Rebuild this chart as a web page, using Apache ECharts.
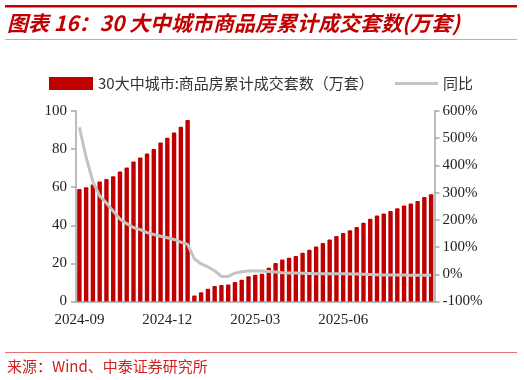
<!DOCTYPE html>
<html>
<head>
<meta charset="utf-8">
<script src="https://cdn.jsdelivr.net/npm/echarts@6/dist/echarts.min.js"></script>
<style>
html,body{margin:0;padding:0;background:#fff;}
#main{width:524px;height:380px;}
</style>
</head>
<body>
<div id="main"></div>
<script>
// Weekly dates (week ending)
var categories = [
  '2024-09-08','2024-09-15','2024-09-22','2024-09-29','2024-10-06','2024-10-13','2024-10-20','2024-10-27',
  '2024-11-03','2024-11-10','2024-11-17','2024-11-24','2024-12-01','2024-12-08','2024-12-15','2024-12-22',
  '2024-12-29','2025-01-05','2025-01-12','2025-01-19','2025-01-26','2025-02-02','2025-02-09','2025-02-16',
  '2025-02-23','2025-03-02','2025-03-09','2025-03-16','2025-03-23','2025-03-30','2025-04-06','2025-04-13',
  '2025-04-20','2025-04-27','2025-05-04','2025-05-11','2025-05-18','2025-05-25','2025-06-01','2025-06-08',
  '2025-06-15','2025-06-22','2025-06-29','2025-07-06','2025-07-13','2025-07-20','2025-07-27','2025-08-03',
  '2025-08-10','2025-08-17','2025-08-24','2025-08-31','2025-09-07'
];
// 30大中城市:商品房累计成交套数（万套）
var cumulativeUnits = [
  59.0, 60.0, 61.4, 63.0, 64.3, 65.7, 68.3, 70.4, 73.5, 75.6, 77.7, 80.0, 83.5, 86.0, 88.7, 91.7, 95.3,
  3.2, 4.9, 6.7, 8.1, 8.6, 8.9, 10.2, 11.4, 13.2, 14.0, 14.6, 17.7, 20.2, 22.1, 23.0, 23.9, 25.6, 27.2,
  28.9, 30.7, 32.6, 34.4, 36.0, 37.4, 39.1, 41.4, 43.5, 45.1, 46.2, 47.5, 48.9, 50.4, 51.4, 52.8, 54.9, 56.3
];
// 同比 (%)
var yoyPct = [
  540, 430, 340, 288, 262, 232, 203, 186, 172, 164, 153, 146, 140, 134, 128, 118, 110,
  57, 38, 27, 13, -8, -8, 4, 9, 12, 13, 12, 10, 8, 6, 5, 5, 4, 3, 2, 2, 2, 2, 2,
  1, 1, 0, -1, -2, -3, -3, -3, -3, -4, -4, -4, -4
];
var leftTicks = { min: 0, max: 100, interval: 20 };
var rightTicks = { min: -100, max: 600, interval: 100 };
var labelEvery = 13;

var barName = '30大中城市:商品房累计成交套数（万套）';
var lineName = '同比';
var RED = '#C00000';
var GREY = '#C4C4C4';
var serif = '"Liberation Serif","Times New Roman",serif';
var cjk = '"Noto Sans CJK SC","Noto Sans",sans-serif';

var chart = echarts.init(document.getElementById('main'), null, { renderer: 'canvas' });
var lastIdx = categories.length - 1;
function showAt(i) { return i % labelEvery === 0 && i < lastIdx; }

chart.setOption({
  animation: false,
  backgroundColor: '#fff',
  graphic: [
    { type: 'rect', shape: { x: 5, y: 5, width: 512, height: 2.5 }, style: { fill: RED } },
    { type: 'text', left: 7, top: 13, style: { text: '图表 16：30 大中城市商品房累计成交套数(万套)', fill: RED,
      font: 'italic bold 21px ' + cjk } },
    { type: 'rect', shape: { x: 5, y: 39, width: 512, height: 1 }, style: { fill: '#EE9A9A' } },
    { type: 'rect', shape: { x: 5, y: 352, width: 512, height: 1 }, style: { fill: '#E87070' } },
    { type: 'text', left: 7, top: 359, style: { text: '来源：Wind、中泰证券研究所', fill: '#D02020',
      font: '15px ' + cjk } }
  ],
  legend: [
    { data: [barName], left: 44, top: 71, itemWidth: 44, itemHeight: 13, icon: 'rect',
      textStyle: { fontSize: 15, color: '#333', fontFamily: cjk } },
    { data: [{ name: lineName, icon: 'rect' }], left: 390, top: 71, itemWidth: 43, itemHeight: 3,
      textStyle: { fontSize: 15, color: '#333', fontFamily: cjk } }
  ],
  grid: { left: 76, right: 89.5, top: 111, bottom: 78.5, outerBoundsMode: 'none', containLabel: false },
  xAxis: {
    type: 'category',
    data: categories,
    boundaryGap: true,
    axisLine: { lineStyle: { color: '#A6A6A6', width: 1.5 } },
    axisTick: { interval: function (i) { return showAt(i); }, length: 5, lineStyle: { color: '#A6A6A6', width: 1.5 } },
    axisLabel: {
      interval: function (i) { return showAt(i); },
      formatter: function (v) { return v.slice(0, 7); },
      fontFamily: serif, fontSize: 15, color: '#222', margin: 11
    },
    splitLine: { show: false }
  },
  yAxis: [
    {
      type: 'value', min: leftTicks.min, max: leftTicks.max, interval: leftTicks.interval,
      axisLine: { show: true, lineStyle: { color: '#A6A6A6', width: 1.5 } },
      axisTick: { show: true, length: 5, lineStyle: { color: '#A6A6A6', width: 1.5 } },
      axisLabel: { fontFamily: serif, fontSize: 15, color: '#222', margin: 9 },
      splitLine: { show: false }
    },
    {
      type: 'value', min: rightTicks.min, max: rightTicks.max, interval: rightTicks.interval,
      position: 'right',
      axisLine: { show: true, lineStyle: { color: '#A6A6A6', width: 1.5 } },
      axisTick: { show: true, length: 5, lineStyle: { color: '#A6A6A6', width: 1.5 } },
      axisLabel: { fontFamily: serif, fontSize: 15, color: '#222', margin: 8, formatter: '{value}%' },
      splitLine: { show: false }
    }
  ],
  series: [
    {
      name: barName, type: 'bar', data: cumulativeUnits, yAxisIndex: 0,
      barCategoryGap: '35%',
      itemStyle: { color: RED, borderRadius: [1, 1, 0, 0] }
    },
    {
      name: lineName, type: 'line', data: yoyPct, yAxisIndex: 1,
      symbol: 'none', smooth: false,
      lineStyle: { color: GREY, width: 3 },
      itemStyle: { color: GREY }
    }
  ]
});
</script>
</body>
</html>
